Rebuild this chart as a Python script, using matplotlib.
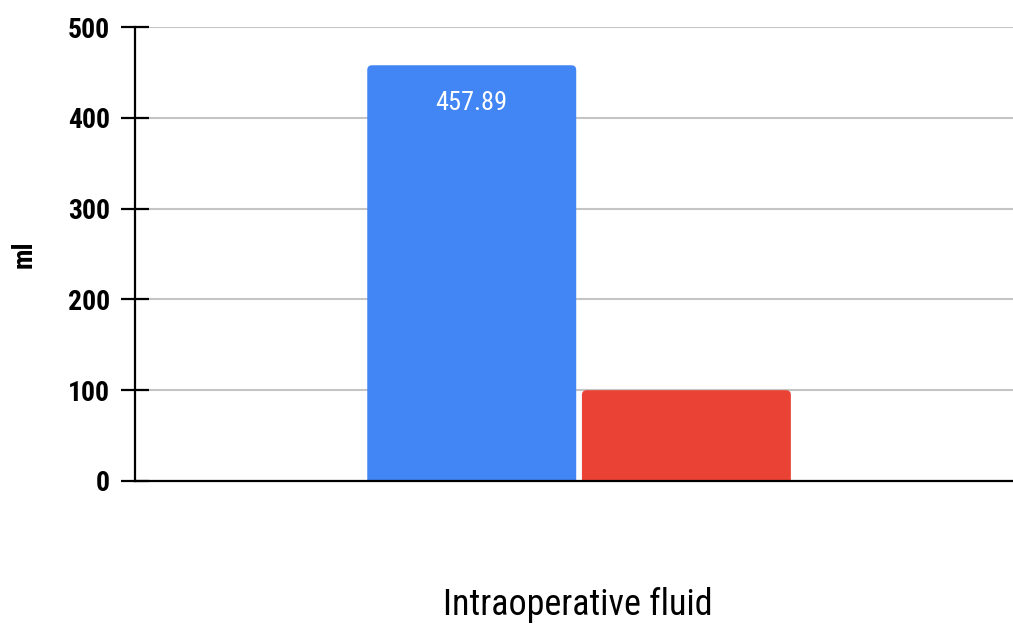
import matplotlib
matplotlib.use("Agg")
import matplotlib.pyplot as plt
from matplotlib.patches import FancyBboxPatch

plt.rcParams['font.family'] = ['Roboto Condensed', 'DejaVu Sans']

# mean intraoperative fluid per group (ml)
groups = ['Group A', 'Group B']
values = [457.89, 100.0]
colors = ['#4285F4', '#EA4335']
yticks = [0, 100, 200, 300, 400, 500]

fig = plt.figure(figsize=(10.13, 6.27), dpi=100)
ax = fig.add_axes([0.1333, 0.2329, 0.8667, 0.7240])
ax.set_xlim(-1, 1)
ax.set_ylim(0, 500)

offsets = [-0.233, 0.256]
width = 0.476
bars = ax.bar(offsets, values, width=width, color=colors, zorder=3)

# swap the plain rectangles for ones with slightly rounded tops
# (bottom is pushed below zero so only the top corners show)
aspect = (ax.bbox.width / 2) / (ax.bbox.height / 500)
for rect in bars.patches:
    x, w, h = rect.get_x(), rect.get_width(), rect.get_height()
    rect.set_visible(False)
    ax.add_patch(FancyBboxPatch((x, -20), w, h + 20,
                                boxstyle='round,pad=0,rounding_size=0.011',
                                mutation_aspect=aspect,
                                facecolor=rect.get_facecolor(), edgecolor='none',
                                zorder=3))

# value label only on the first bar
ax.annotate(f'{values[0]:.2f}', xy=(offsets[0], values[0]), xytext=(0, -27),
            textcoords='offset points', ha='center', va='center',
            color='white', fontsize=19)

ax.set_yticks(yticks)
ax.set_yticklabels([str(t) for t in yticks], fontsize=20, fontweight='bold')
ax.tick_params(axis='y', direction='inout', length=20, width=1.6, pad=8, color='black')
ax.set_xticks([])

ax.yaxis.grid(True, color='#c4c4c4', linewidth=1.5, zorder=0)
ax.set_axisbelow(True)
for s in ['top', 'right']:
    ax.spines[s].set_visible(False)
ax.spines['left'].set_linewidth(1.6)
ax.spines['bottom'].set_linewidth(1.6)
ax.spines['bottom'].set_zorder(4)

fig.text(24 / 1013, 0.595, 'ml', rotation=90, ha='center', va='center',
         fontsize=20, fontweight='bold')
fig.text(578 / 1013, 0.035, 'Intraoperative fluid', ha='center', va='center',
         fontsize=26)

fig.savefig('out.png', dpi=100)
